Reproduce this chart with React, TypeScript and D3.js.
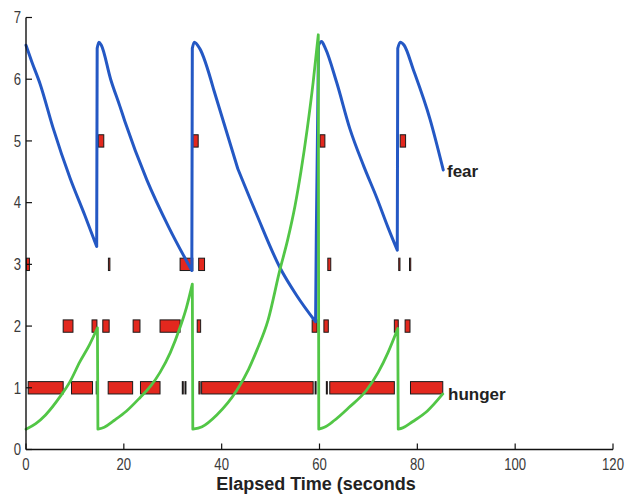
import React from "react";
import * as d3 from "d3";

const W = 625;
const H = 498;

const xTicks = [0, 20, 40, 60, 80, 100, 120];
const yTicks = [0, 1, 2, 3, 4, 5, 6, 7];

// fear curve [seconds, level]
const fearSeries: [number, number][] = [
  [0, 6.55], [1.2, 6.28], [2.9, 5.92], [5.5, 5.22], [9.0, 4.4], [12.0, 3.8], [14.45, 3.29],
  [14.55, 6.5], [14.9, 6.6], [15.4, 6.55], [17.3, 6.0], [19.2, 5.56], [20.2, 5.32], [24.7, 4.37], [29.2, 3.6], [33.9, 2.9],
  [34.0, 6.5], [34.4, 6.6], [35.5, 6.5], [38.3, 5.85], [43.3, 4.55], [47.2, 3.8], [51.9, 2.95], [55.3, 2.5], [59.2, 2.07],
  [59.35, 3.5], [59.8, 6.55], [60.4, 6.61], [61.2, 6.5], [63.5, 5.95], [66.2, 5.2], [69.0, 4.6], [71.7, 4.08], [74.0, 3.6], [75.9, 3.23],
  [76.0, 6.5], [76.5, 6.6], [77.3, 6.55], [79.2, 6.15], [82.6, 5.35], [85.3, 4.53],
];

// hunger curve [seconds, level]
const hungerSeries: [number, number][] = [
  [0, 0.33], [2, 0.42], [4, 0.56], [7.0, 0.86], [9.0, 1.1], [11.0, 1.42], [13.0, 1.7], [14.6, 1.97],
  [14.7, 0.33], [16, 0.36], [18, 0.47], [20.5, 0.62], [23.3, 0.84], [25.5, 1.03], [27.4, 1.25], [29.5, 1.57], [31.5, 1.98], [32.8, 2.3], [34.0, 2.68],
  [34.1, 0.33], [36, 0.37], [39, 0.56], [43.1, 0.96], [45.5, 1.3], [47.2, 1.61], [49.5, 2.1], [51.9, 2.91], [53.5, 3.4], [55.0, 3.95], [56.2, 4.5], [57.5, 5.2], [58.7, 5.95], [59.75, 6.72],
  [59.85, 0.33], [61, 0.36], [63, 0.47], [66, 0.68], [69.6, 0.96], [72, 1.25], [74, 1.57], [76.0, 1.96],
  [76.1, 0.33], [77, 0.35], [79, 0.45], [82, 0.62], [85.2, 0.9],
];

// event bars per level: [start, end] seconds
const level1Bars: [number, number][] = [
  [0.45, 7.6], [9.3, 13.6], [14.35, 14.55], [16.8, 21.8], [23.4, 27.4], [31.95, 32.15], [32.5, 32.7],
  [35.35, 35.6], [35.9, 58.7], [59.1, 59.3], [61.4, 61.6], [62.1, 75.3], [78.6, 85.2],
];
const level2Bars: [number, number][] = [
  [7.6, 9.6], [13.5, 14.5], [15.7, 17.0], [21.9, 23.3], [27.4, 31.5], [35.0, 35.7],
  [58.5, 59.5], [60.9, 61.8], [75.3, 76.1], [77.5, 78.5],
];
const level3Bars: [number, number][] = [
  [0.1, 0.7], [16.85, 17.15], [31.5, 34.1], [35.3, 36.5], [61.7, 62.3], [76.2, 76.45], [78.4, 78.65],
];
const level5Bars: [number, number][] = [
  [14.8, 15.9], [34.1, 35.2], [60.1, 61.1], [76.5, 77.6],
];

const x = d3.scaleLinear().domain([0, 120]).range([26, 613]);
const y = d3.scaleLinear().domain([0, 7]).range([449.5, 17.5]);

const BAR_H = 0.2;

const tickFont = "'Liberation Sans', Arial, sans-serif";
const boldFont = "'Liberation Sans', Arial, sans-serif";

function Bars({ data, level }: { data: [number, number][]; level: number }) {
  return (
    <g>
      {data.map(([s, e], i) => (
        <rect
          key={i}
          x={x(s)}
          y={y(level + BAR_H / 2)}
          width={Math.max(x(e) - x(s), 0.8)}
          height={y(level - BAR_H / 2) - y(level + BAR_H / 2)}
          fill="#e3281e"
          stroke="#1a1a1a"
          strokeWidth={1}
        />
      ))}
    </g>
  );
}

// split into smooth pieces at the sudden jumps; jumps drawn straight
function buildPath(data: [number, number][]): string {
  const smooth = d3
    .line<[number, number]>()
    .x((d) => x(d[0]))
    .y((d) => y(d[1]))
    .curve(d3.curveMonotoneX);
  const segs: [number, number][][] = [];
  const jumps: string[] = [];
  let cur: [number, number][] = [data[0]];
  for (let i = 1; i < data.length; i++) {
    const a = data[i - 1];
    const b = data[i];
    if (Math.abs(b[1] - a[1]) > 1.0) {
      segs.push(cur);
      jumps.push(`M${x(a[0])},${y(a[1])}L${x(b[0])},${y(b[1])}`);
      cur = [b];
    } else {
      cur.push(b);
    }
  }
  segs.push(cur);
  const parts = segs.filter((s) => s.length > 1).map((s) => smooth(s) || "");
  return parts.concat(jumps).join("");
}

function TickLabel({ px, py, anchor, text }: { px: number; py: number; anchor: string; text: string }) {
  return (
    <text
      transform={`translate(${px},${py}) scale(0.82,1)`}
      textAnchor={anchor as any}
      fontFamily={tickFont}
      fontSize={16}
      fill="#3a3a3a"
    >
      {text}
    </text>
  );
}

export default function App() {
  const y0 = y(0);
  const x0 = x(0);

  return (
    <svg
      width={W}
      height={H}
      style={{ position: "absolute", left: 0, top: 0, background: "#fff" }}
    >
      <rect x={0} y={0} width={W} height={H} fill="#fff" />

      <Bars data={level1Bars} level={1} />
      <Bars data={level2Bars} level={2} />
      <Bars data={level3Bars} level={3} />
      <Bars data={level5Bars} level={5} />

      <path d={buildPath(fearSeries)} fill="none" stroke="#2458c4" strokeWidth={3} strokeLinejoin="round" strokeLinecap="round" />
      <path d={buildPath(hungerSeries)} fill="none" stroke="#52c646" strokeWidth={2.8} strokeLinejoin="round" strokeLinecap="round" />

      {/* axes */}
      <line x1={x0} y1={y0} x2={x(120)} y2={y0} stroke="#111" strokeWidth={1.4} />
      <line x1={x0} y1={y0} x2={x0} y2={y(7)} stroke="#111" strokeWidth={1.4} />

      {xTicks.map((t) => (
        <g key={"xt" + t}>
          <line x1={x(t)} x2={x(t)} y1={y0} y2={y0 - 6} stroke="#111" strokeWidth={1.2} />
          <TickLabel px={x(t)} py={470} anchor="middle" text={String(t)} />
        </g>
      ))}

      {yTicks.map((t) => (
        <g key={"yt" + t}>
          <line x1={x0} x2={x0 + 6} y1={y(t)} y2={y(t)} stroke="#111" strokeWidth={1.2} />
          <TickLabel px={21} py={y(t) + 5.8} anchor="end" text={String(t)} />
        </g>
      ))}

      <text x={447} y={177} fontFamily={boldFont} fontWeight="bold" fontSize={17} fill="#222">
        fear
      </text>
      <text x={448} y={400} fontFamily={boldFont} fontWeight="bold" fontSize={17} fill="#222">
        hunger
      </text>

      <text
        x={316}
        y={490}
        textAnchor="middle"
        fontFamily={boldFont}
        fontWeight="bold"
        fontSize={18}
        fill="#222"
      >
        Elapsed Time (seconds
      </text>
    </svg>
  );
}
